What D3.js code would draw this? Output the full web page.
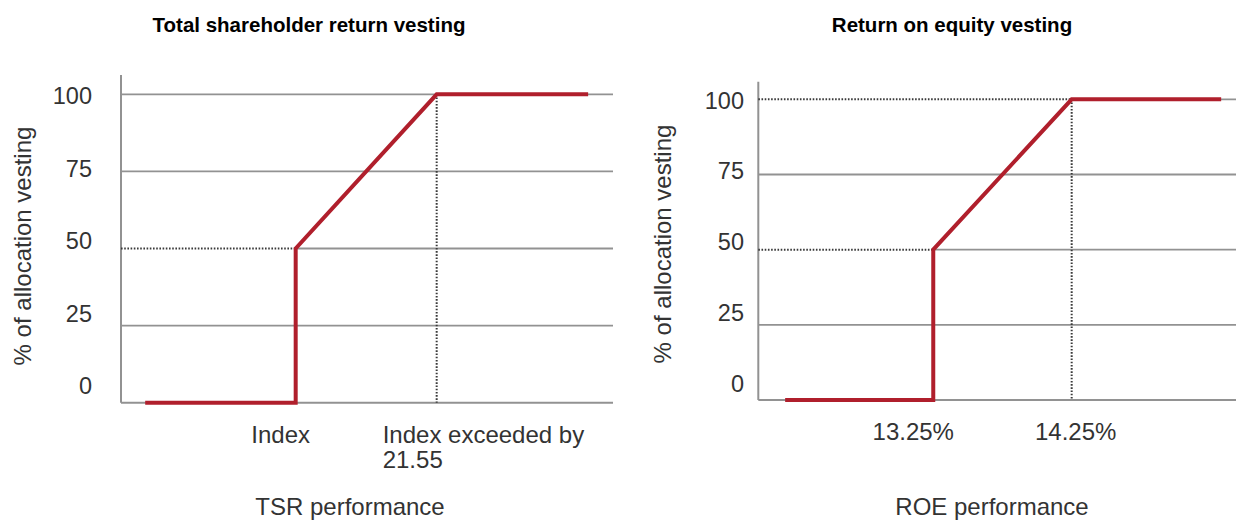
<!DOCTYPE html>
<html>
<head>
<meta charset="utf-8">
<script src="https://cdn.jsdelivr.net/npm/d3@7"></script>
<style>
  body { margin: 0; background: #fff; }
  svg { display: block; font-family: "Liberation Sans", Arial, sans-serif; }
</style>
</head>
<body>
<svg width="1236" height="521"></svg>
<script>
// data
var vestLevels = [0, 25, 50, 75, 100];
var tsrPerf = [-23, 0, 0, 21.55, 44.7];
var tsrVest = [0, 0, 50, 100, 100];
var tsrTickVals = [0, 21.55];
var tsrTickText = [["Index"], ["Index exceeded by", "21.55"]];
var roePerf = [12.18, 13.25, 13.25, 14.25, 15.33];
var roeVest = [0, 0, 50, 100, 100];
var roeTickVals = [13.25, 14.25];
var roeTickText = [["13.25%"], ["14.25%"]];

var svg = d3.select("svg");
var red = "#b01f2c";
var gridColor = "#929292";
var dotColor = "#3a3a3a";

drawChart({
    title: "Total shareholder return vesting", titleX: 309,
    xTitle: "TSR performance", xTitleX: 350, xTitleY: 515,
    perf: tsrPerf, vest: tsrVest, tickVals: tsrTickVals, tickText: tsrTickText,
    tickDx: [-15, -54], tickAnchor: ["middle", "start"], tickY: 443,
    xDomain: [-26.7, 48.5], left: 121, right: 613, top: 75, y0: 402.7, y100: 94.3,
    labelRight: 92, labelY0: 386, labelY100: 96, yTitleX: 31, yTitleY: 246,
    dottedH: [[50, 0]], dottedV: [21.55]
});

drawChart({
    title: "Return on equity vesting", titleX: 952,
    xTitle: "ROE performance", xTitleX: 992, xTitleY: 515,
    perf: roePerf, vest: roeVest, tickVals: roeTickVals, tickText: roeTickText,
    tickDx: [-20, 4], tickAnchor: ["middle", "middle"], tickY: 440,
    xDomain: [11.986, 15.5], left: 758.3, right: 1244.7, top: 81.7, y0: 400, y100: 99.3,
    labelRight: 744, labelY0: 384.3, labelY100: 100.5, yTitleX: 671, yTitleY: 244,
    dottedH: [[50, 13.25], [100, 14.25]], dottedV: [14.25]
});

function drawChart(c) {
    var x = d3.scaleLinear().domain(c.xDomain).range([c.left, c.right]);
    var y = d3.scaleLinear().domain([0, 100]).range([c.y0, c.y100]);
    // tick labels in the source sit on their own spacing
    var yLab = d3.scaleLinear().domain([0, 100]).range([c.labelY0, c.labelY100]);
    var g = svg.append("g");

    g.append("text")
        .attr("x", c.titleX).attr("y", 32)
        .attr("text-anchor", "middle")
        .attr("font-size", 20.5).attr("font-weight", "bold").attr("fill", "#000")
        .text(c.title);

    // gridlines, solid part starts where a dotted guide ends
    var dottedAt = {};
    c.dottedH.forEach(function (d) { dottedAt[d[0]] = d[1]; });
    g.selectAll(".grid").data(vestLevels.filter(function (v) { return v > 0; }))
        .enter().append("line")
        .attr("x1", function (d) { return dottedAt[d] !== undefined ? x(dottedAt[d]) : c.left; })
        .attr("x2", c.right)
        .attr("y1", function (d) { return y(d); })
        .attr("y2", function (d) { return y(d); })
        .attr("stroke", gridColor).attr("stroke-width", 1.8);

    // axis lines
    g.append("line")
        .attr("x1", c.left).attr("x2", c.right).attr("y1", y(0)).attr("y2", y(0))
        .attr("stroke", gridColor).attr("stroke-width", 2);
    g.append("line")
        .attr("x1", c.left).attr("x2", c.left).attr("y1", c.top).attr("y2", y(0))
        .attr("stroke", gridColor).attr("stroke-width", 2);

    // dotted guides
    g.selectAll(".dh").data(c.dottedH).enter().append("line")
        .attr("x1", c.left).attr("x2", function (d) { return x(d[1]); })
        .attr("y1", function (d) { return y(d[0]); })
        .attr("y2", function (d) { return y(d[0]); })
        .attr("stroke", dotColor).attr("stroke-width", 2)
        .attr("stroke-dasharray", "1.6,1.6");
    g.selectAll(".dv").data(c.dottedV).enter().append("line")
        .attr("x1", function (d) { return x(d); })
        .attr("x2", function (d) { return x(d); })
        .attr("y1", y(100)).attr("y2", y(0))
        .attr("stroke", dotColor).attr("stroke-width", 2)
        .attr("stroke-dasharray", "1.6,1.6");

    // y tick labels
    var yAxis = g.append("g")
        .attr("transform", "translate(" + c.labelRight + ",0)")
        .call(d3.axisLeft(yLab).tickValues(vestLevels).tickSize(0).tickPadding(0));
    yAxis.select(".domain").remove();
    yAxis.selectAll("text")
        .attr("font-size", 23.5).attr("font-family", "Liberation Sans, Arial, sans-serif")
        .attr("fill", "#333");

    g.append("text")
        .attr("transform", "translate(" + c.yTitleX + "," + c.yTitleY + ") rotate(-90)")
        .attr("text-anchor", "middle")
        .attr("font-size", 24).attr("fill", "#333")
        .text("% of allocation vesting");

    // x tick labels
    c.tickVals.forEach(function (v, i) {
        var t = g.append("text")
            .attr("text-anchor", c.tickAnchor[i])
            .attr("font-size", 24).attr("fill", "#333");
        c.tickText[i].forEach(function (line, j) {
            t.append("tspan")
                .attr("x", x(v) + c.tickDx[i])
                .attr("y", c.tickY + j * 24.5)
                .text(line);
        });
    });

    g.append("text")
        .attr("x", c.xTitleX).attr("y", c.xTitleY)
        .attr("text-anchor", "middle")
        .attr("font-size", 24).attr("fill", "#333")
        .text(c.xTitle);

    // vesting curve
    var line = d3.line()
        .x(function (d) { return x(d[0]); })
        .y(function (d) { return y(d[1]); });
    g.append("path")
        .datum(d3.zip(c.perf, c.vest))
        .attr("d", line)
        .attr("fill", "none")
        .attr("stroke", red)
        .attr("stroke-width", 4)
        .attr("stroke-linejoin", "miter");
}
</script>
</body>
</html>
